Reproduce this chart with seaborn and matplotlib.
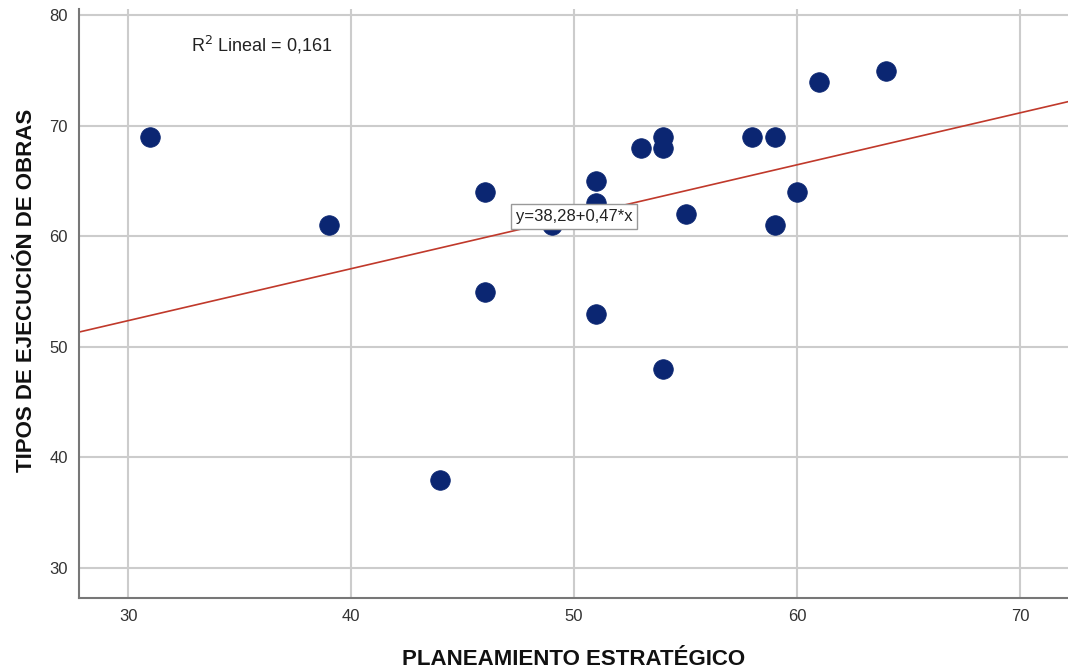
import numpy as np
import pandas as pd
import matplotlib
matplotlib.use('Agg')
import matplotlib.pyplot as plt
import seaborn as sns

# values
planeamiento = [31, 39, 44, 46, 46, 49, 51, 51, 51, 53, 54, 54, 54, 55, 58, 59, 59, 60, 61, 64]
tipos_obras = [69, 61, 38, 64, 55, 61, 65, 63, 53, 68, 69, 68, 48, 62, 69, 69, 61, 64, 74, 75]

# fit line shown on the chart
intercept = 38.28
slope = 0.47
r2 = 0.161

df = pd.DataFrame({'PLANEAMIENTO ESTRATÉGICO': planeamiento,
                   'TIPOS DE EJECUCIÓN DE OBRAS': tipos_obras})

sns.set_style('white')
plt.rcParams['font.family'] = ['Liberation Sans', 'DejaVu Sans']

fig = plt.figure(figsize=(10.68, 6.71), dpi=100)
ax = fig.add_axes([0.074, 0.109, 0.926, 0.878])

xmin, xmax = 27.8, 72.15
ymin, ymax = 27.3, 80.6
ax.set_xlim(xmin, xmax)
ax.set_ylim(ymin, ymax)

ax.set_xticks([30, 40, 50, 60, 70])
ax.set_yticks([30, 40, 50, 60, 70, 80])
ax.grid(True, color='#cccccc', linewidth=1.5)
ax.set_axisbelow(True)

# regression line across the whole x range
line_x = np.array([xmin, xmax])
ax.plot(line_x, intercept + slope * line_x, color='#c0392b', linewidth=1.2, zorder=2)

sns.scatterplot(data=df, x='PLANEAMIENTO ESTRATÉGICO', y='TIPOS DE EJECUCIÓN DE OBRAS',
                s=200, color='#0b2672', edgecolor='#0b2672', linewidth=0.5, ax=ax, zorder=3)

ax.text(32.8, 77.3, f'R$^2$ Lineal = {r2:.3f}'.replace('.', ','),
        fontsize=13, color='#222222', ha='left', va='center')

ax.text(50.0, 61.8, f'y={intercept:.2f}+{slope:.2f}*x'.replace('.', ','),
        fontsize=12, color='#222222', ha='center', va='center', zorder=4,
        bbox=dict(boxstyle='square,pad=0.3', facecolor='white', edgecolor='#999999', linewidth=1))

for side in ['top', 'right']:
    ax.spines[side].set_visible(False)
for side in ['left', 'bottom']:
    ax.spines[side].set_color('#777777')
    ax.spines[side].set_linewidth(1.5)

ax.tick_params(axis='both', length=0, labelsize=12, labelcolor='#333333', pad=8)
ax.set_xlabel('PLANEAMIENTO ESTRATÉGICO', fontsize=16, fontweight='bold', color='#111111', labelpad=18)
ax.set_ylabel('TIPOS DE EJECUCIÓN DE OBRAS', fontsize=16, fontweight='bold', color='#111111')
ax.yaxis.set_label_coords(-0.042, 0.522)

plt.savefig('out.png', dpi=100)
